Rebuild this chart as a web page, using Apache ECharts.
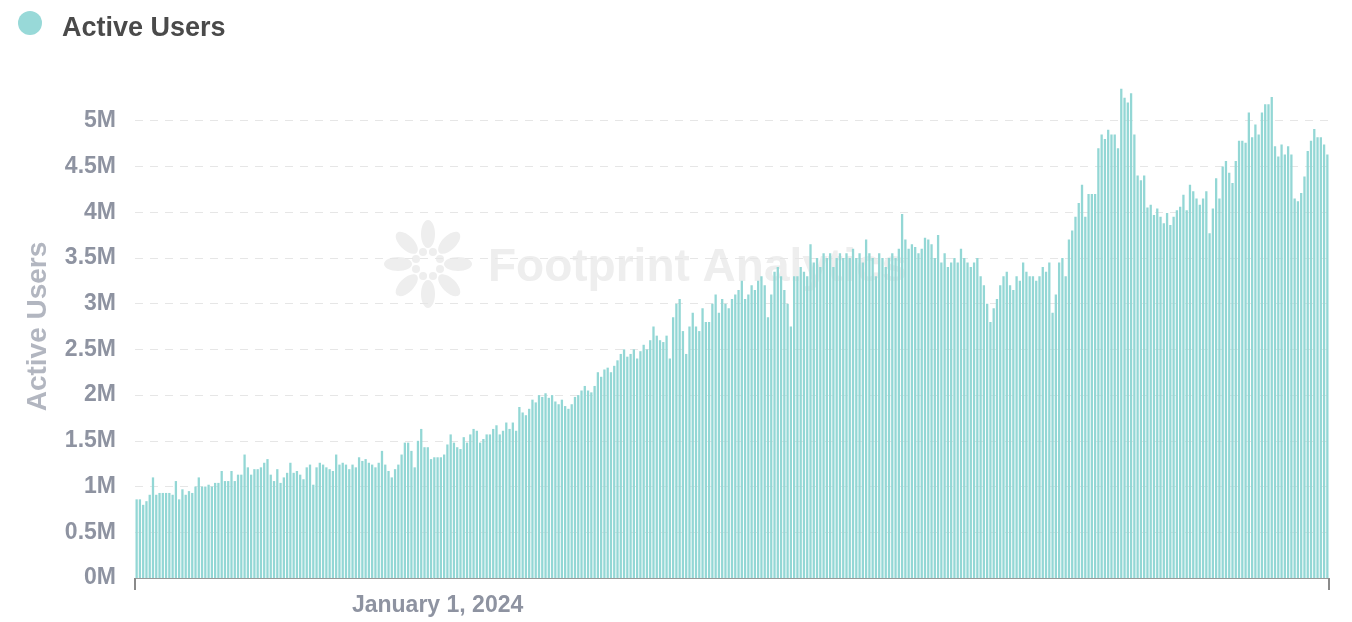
<!DOCTYPE html>
<html>
<head>
<meta charset="utf-8">
<script src="https://cdn.jsdelivr.net/npm/echarts@6/dist/echarts.min.js"></script>
<style>
  html, body { margin: 0; padding: 0; background: #fff; }
  #chart { width: 1352px; height: 622px; }
</style>
</head>
<body>
<div id="chart"></div>
<script>
// daily active users, in millions, starting 2023-10-01
const startDate = '2023-10-01'
const activeUsers = [
  // Oct - Nov 2023
  0.86, 0.86, 0.80, 0.84, 0.91, 1.10, 0.91, 0.93, 0.93, 0.93,
  0.93, 0.91, 1.06, 0.86, 0.97, 0.91, 0.95, 0.93, 1.00, 1.10,
  1.00, 1.00, 1.02, 1.00, 1.04, 1.04, 1.17, 1.06, 1.06, 1.17,
  1.06, 1.13, 1.13, 1.35, 1.21, 1.13, 1.19, 1.19, 1.21, 1.26,
  1.30, 1.13, 1.06, 1.19, 1.04, 1.10, 1.15, 1.26, 1.15, 1.17,
  1.13, 1.08, 1.21, 1.24, 1.02, 1.21, 1.26, 1.24, 1.21,
  // Nov 2023 - Jan 2024
  1.19, 1.17, 1.35, 1.24, 1.26, 1.24, 1.19, 1.24, 1.21, 1.32,
  1.28, 1.30, 1.26, 1.24, 1.21, 1.26, 1.39, 1.24, 1.17, 1.10,
  1.19, 1.24, 1.35, 1.48, 1.48, 1.39, 1.21, 1.50, 1.63, 1.43,
  1.43, 1.30, 1.32, 1.32, 1.32, 1.35, 1.46, 1.57, 1.48, 1.43,
  1.41, 1.54, 1.48, 1.57, 1.63, 1.61, 1.48, 1.52, 1.57, 1.57,
  1.63, 1.67, 1.57, 1.61, 1.70, 1.63, 1.70, 1.61, 1.87, 1.81,
  1.78,
  // Jan - Jul 2024
  1.85,
  1.95, 1.92, 2.00, 1.98, 2.02, 1.97, 2.00, 1.93, 1.90, 1.95,
  1.88, 1.85, 1.90, 1.98, 2.00, 2.05, 2.10, 2.05, 2.03, 2.10,
  2.25, 2.20, 2.28, 2.30, 2.25, 2.32, 2.38, 2.45, 2.50, 2.42,
  2.45, 2.50, 2.40, 2.48, 2.55, 2.50, 2.60, 2.75, 2.65, 2.60,
  2.58, 2.65, 2.40, 2.85, 3.00, 3.05, 2.70, 2.45, 2.75, 2.90,
  2.75, 2.70, 2.95, 2.80, 2.80, 3.00, 3.10, 2.90, 3.05, 3.00,
  2.95, 3.05, 3.10, 3.15, 3.25, 3.05, 3.10, 3.20, 3.15, 3.25,
  3.30, 3.20, 2.85, 3.10, 3.35, 3.40, 3.30, 3.15, 3.00, 2.75,
  3.30, 3.30, 3.40, 3.35, 3.30, 3.65, 3.45, 3.50, 3.40, 3.55,
  3.50, 3.55, 3.40, 3.50, 3.55, 3.50, 3.55, 3.50, 3.60, 3.50,
  3.55, 3.45, 3.70, 3.55, 3.50, 3.30, 3.55, 3.50, 3.40, 3.50,
  3.55, 3.50, 3.60, 3.98, 3.70, 3.60, 3.65, 3.62, 3.55, 3.60,
  3.72, 3.70, 3.65, 3.50, 3.75, 3.45, 3.55, 3.40, 3.45, 3.50,
  3.45, 3.60, 3.50, 3.45, 3.40, 3.45, 3.50, 3.30, 3.20, 3.00,
  2.80, 2.95, 3.05, 3.20, 3.30, 3.35, 3.20, 3.15, 3.30, 3.25,
  3.45, 3.35, 3.30, 3.30, 3.25, 3.30, 3.40, 3.35, 3.45, 2.90,
  3.10, 3.45, 3.50, 3.30, 3.70, 3.80, 3.95, 4.10, 4.30, 3.95,
  4.20, 4.20, 4.20, 4.70, 4.85, 4.80, 4.90, 4.85, 4.85, 4.70,
  5.35, 5.25, 5.20, 5.30, 4.85, 4.40, 4.35, 4.40, 4.05,
  // Aug - Sep 2024
  4.08, 3.97, 4.04, 3.95, 3.88, 3.99, 3.86, 3.95, 4.02, 4.06,
  4.19, 4.02, 4.30, 4.23, 4.15, 4.08, 4.15, 4.23, 3.77, 4.04,
  4.37, 4.15, 4.50, 4.56, 4.43, 4.32, 4.56, 4.78, 4.78, 4.76,
  5.09, 4.82, 4.96, 4.85, 5.09, 5.18, 5.18, 5.26, 4.72, 4.61,
  4.74, 4.63, 4.72, 4.63, 4.15, 4.12, 4.21, 4.39, 4.67, 4.78,
  4.91, 4.82, 4.82, 4.74, 4.63
]
const xTickLabel = 'January 1, 2024'
const xTickDate = '2024-01-01'
const yTicks = [0, 0.5, 1, 1.5, 2, 2.5, 3, 3.5, 4, 4.5, 5, 5.5]

const FONT = '"Liberation Sans", Arial, Helvetica, sans-serif'
const BAR = '#93d7d5'
const MARK = '#eeeeee'

function buildDates(start, n) {
  const out = []
  const d = new Date(start + 'T00:00:00Z')
  for (let i = 0; i < n; i++) {
    out.push(d.toISOString().slice(0, 10))
    d.setUTCDate(d.getUTCDate() + 1)
  }
  return out
}

// faint watermark logo: petals around a small ring
function logo(cx, cy) {
  const items = []
  for (let k = 0; k < 8; k++) {
    const a = (Math.PI / 4) * k
    items.push({
      type: 'ellipse', silent: true, z: -1,
      x: cx + Math.cos(a) * 30, y: cy + Math.sin(a) * 30, rotation: -a,
      shape: { cx: 0, cy: 0, rx: 14, ry: 7 },
      style: { fill: MARK },
    })
    items.push({
      type: 'circle', silent: true, z: -1,
      shape: { cx: cx + Math.cos(a + 0.39) * 13, cy: cy + Math.sin(a + 0.39) * 13, r: 4 },
      style: { fill: MARK },
    })
  }
  return items
}

const dates = buildDates(startDate, activeUsers.length)
const tickIndex = dates.indexOf(xTickDate)

const chart = echarts.init(document.getElementById('chart'))

chart.setOption({
  backgroundColor: '#ffffff',
  animation: false,
  title: {
    text: 'Active Users',
    left: 57,
    top: 10,
    textStyle: { fontFamily: FONT, fontSize: 27, fontWeight: 'bold', color: '#4a4a4a' },
  },
  graphic: [
    { type: 'circle', shape: { cx: 30, cy: 23, r: 12 }, style: { fill: '#98d9d8' } },
    ...logo(428, 264),
    {
      type: 'text', left: 488, top: 245, z: -1, silent: true,
      style: { text: 'Footprint Analytics', fontFamily: FONT, fontSize: 46, fontWeight: 'bold', fill: MARK },
    },
  ],
  grid: { left: 135, right: 23, top: 75, bottom: 44, containLabel: false },
  xAxis: {
    type: 'category',
    data: dates,
    boundaryGap: true,
    axisLine: { lineStyle: { color: '#9a9a9a', width: 1 } },
    axisTick: {
      show: true,
      length: 12,
      interval: (idx) => idx === 0,
      lineStyle: { color: '#8a8a8a', width: 2 },
    },
    axisLabel: {
      interval: (idx) => idx === tickIndex,
      formatter: (v) => (v === xTickDate ? xTickLabel : ''),
      margin: 16,
      fontFamily: FONT,
      fontSize: 23,
      fontWeight: 'bold',
      color: '#8e93a1',
    },
    splitLine: { show: false },
  },
  yAxis: {
    type: 'value',
    min: yTicks[0],
    max: yTicks[yTicks.length - 1],
    interval: 0.5,
    name: 'Active Users',
    nameLocation: 'middle',
    nameGap: 83,
    nameTextStyle: { fontFamily: FONT, fontSize: 28, fontWeight: 'bold', color: '#b2b6c0' },
    axisLine: { show: false },
    axisTick: { show: false },
    axisLabel: {
      showMaxLabel: false,
      margin: 19,
      fontFamily: FONT,
      fontSize: 23,
      fontWeight: 'bold',
      color: '#8e93a1',
      formatter: (v) => v + 'M',
    },
    splitLine: {
      lineStyle: {
        type: [8, 7],
        color: yTicks.map((t, i) => (i === yTicks.length - 1 ? 'rgba(0,0,0,0)' : '#e6e6e6')),
      },
    },
  },
  series: [
    {
      name: 'Active Users',
      type: 'bar',
      data: activeUsers,
      barCategoryGap: '30%',
      itemStyle: { color: BAR },
    },
  ],
})
</script>
</body>
</html>
